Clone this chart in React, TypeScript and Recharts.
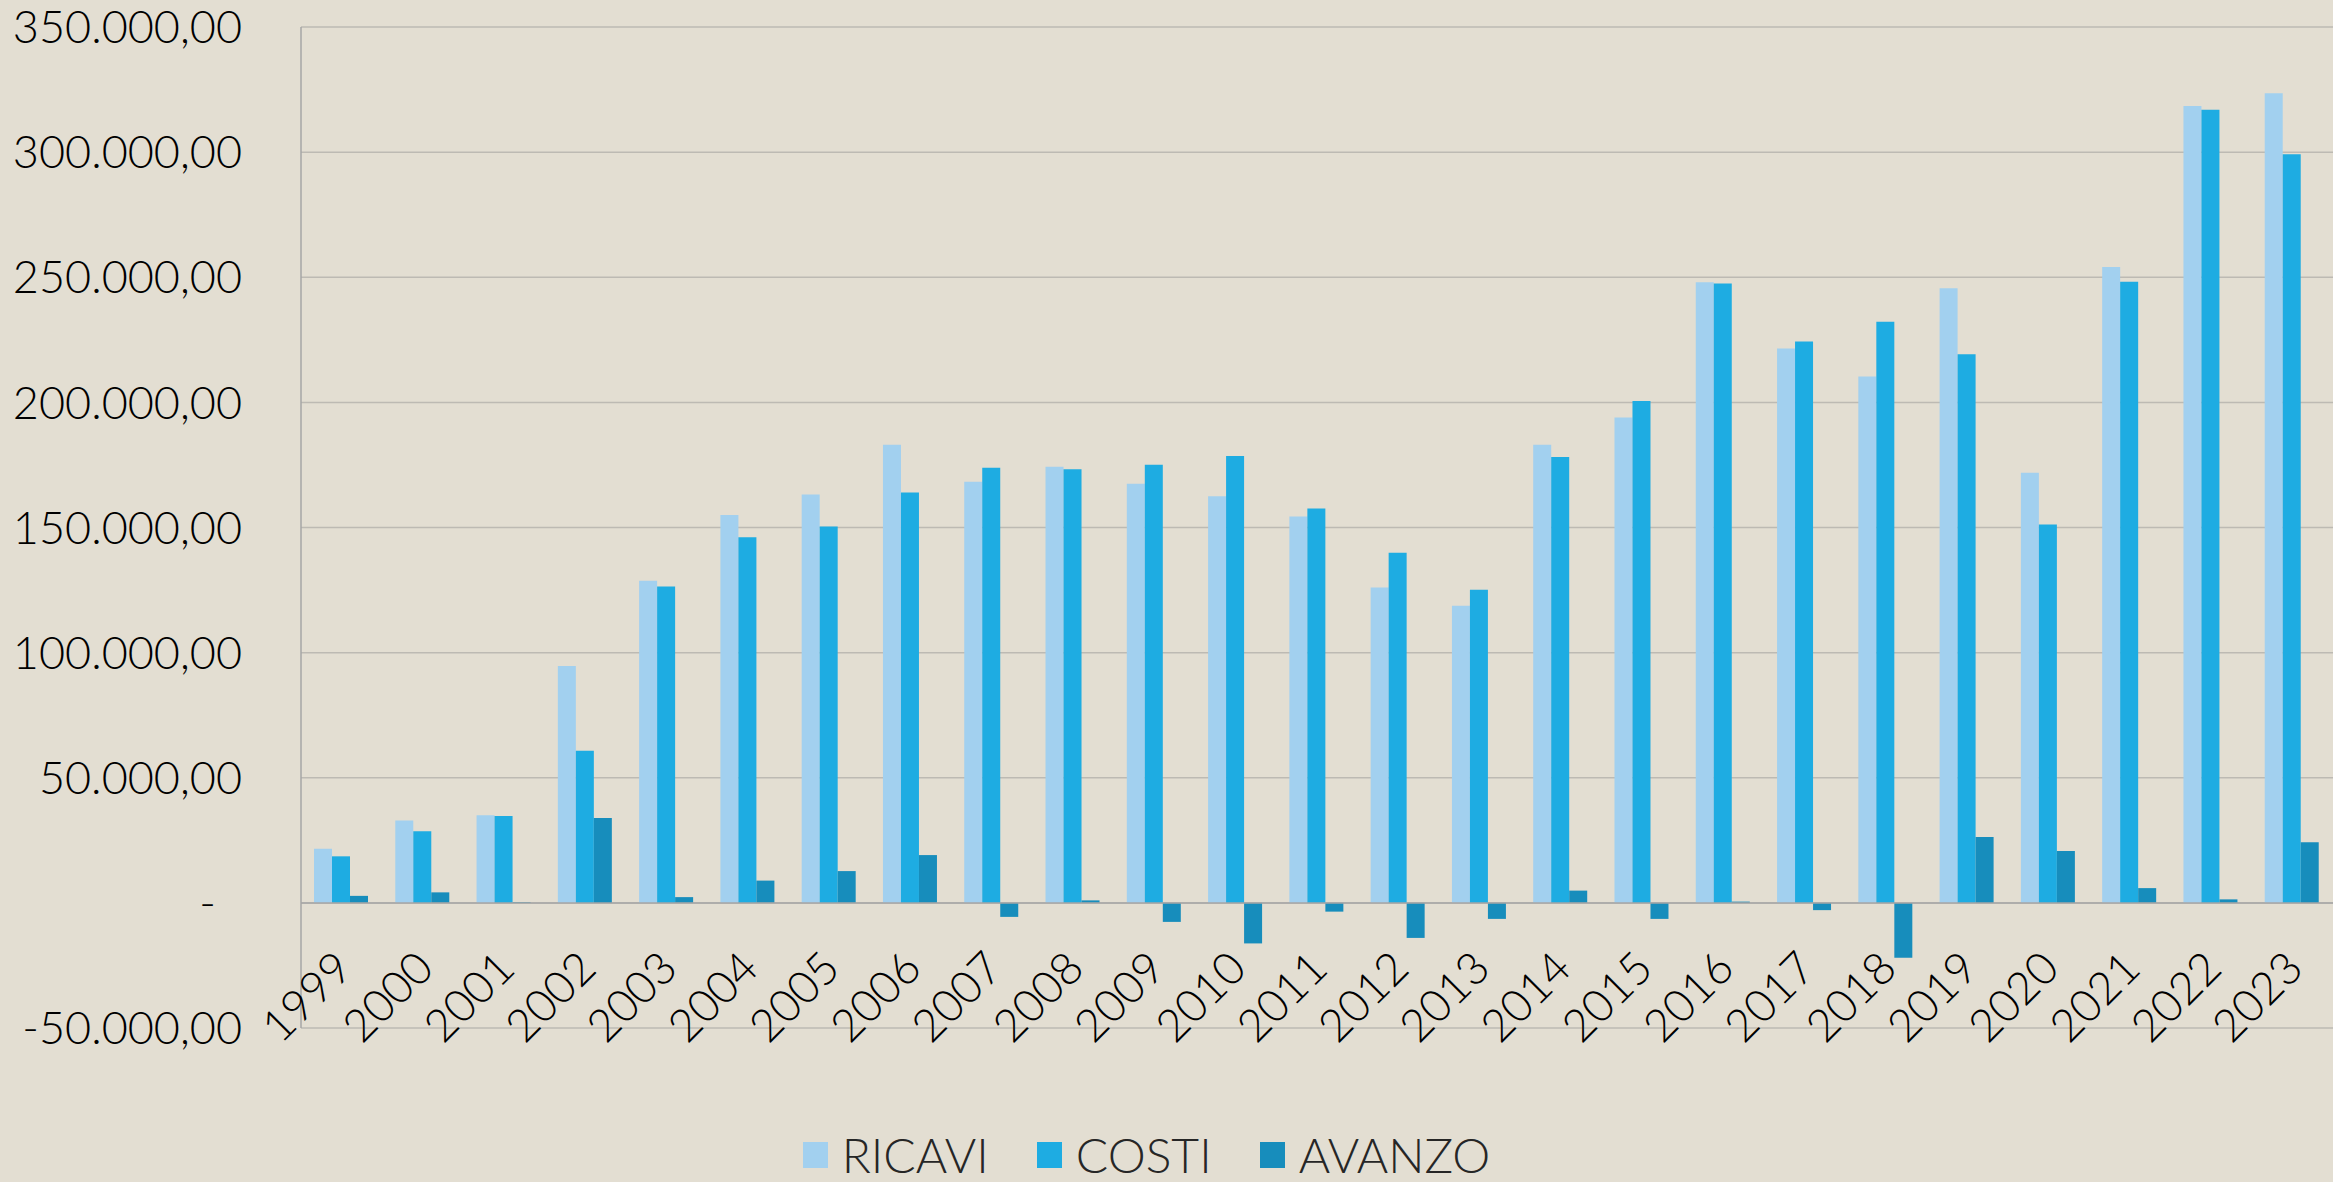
import { BarChart, Bar, XAxis, YAxis, CartesianGrid, Legend, ReferenceLine } from 'recharts';

// dati (valori in euro)
const anni = ['1999', '2000', '2001', '2002', '2003', '2004', '2005', '2006', '2007', '2008', '2009', '2010', '2011',
  '2012', '2013', '2014', '2015', '2016', '2017', '2018', '2019', '2020', '2021', '2022', '2023'];

const ricavi = [21600, 32900, 35000, 94700, 128700, 155000, 163200, 183100, 168300, 174300, 167500, 162500, 154400,
  126000, 118700, 183100, 194000, 248000, 221500, 210300, 245600, 171900, 254100, 318400, 323500];

const costi = [18600, 28600, 34700, 60800, 126400, 146100, 150400, 164000, 173900, 173300, 175100, 178600, 157600,
  139900, 125100, 178200, 200500, 247500, 224300, 232200, 219200, 151200, 248200, 316900, 299200];

const avanzo = [2800, 4200, 300, 33900, 2300, 8900, 12700, 19100, -5600, 1000, -7600, -16200, -3500,
  -14000, -6400, 4900, -6400, 500, -2900, -21900, 26300, 20700, 5900, 1400, 24200];

const yTicks = [-50000, 0, 50000, 100000, 150000, 200000, 250000, 300000, 350000];

const serie = [
  { key: 'RICAVI', color: '#a2d0ef' },
  { key: 'COSTI', color: '#1eace2' },
  { key: 'AVANZO', color: '#178dbc' },
];

const data = anni.map((anno, i) => ({
  anno,
  RICAVI: ricavi[i],
  COSTI: costi[i],
  AVANZO: avanzo[i],
}));

const W = 2333;
const H = 1182;
const margin = { top: 27, right: 0, bottom: 153, left: 0 };
const xAxisH = 1;
const plotH = H - margin.top - margin.bottom - xAxisH;
// posizione della linea dello zero (le etichette degli anni stanno sotto di essa)
const zeroY = margin.top + (plotH * yTicks[yTicks.length - 1]) / (yTicks[yTicks.length - 1] - yTicks[0]);

const FONT = "'Century Gothic', 'URW Gothic', Lato, sans-serif";

const formatIt = (v: number) => {
  if (v === 0) return '-';
  const s = Math.abs(v).toFixed(0).replace(/\B(?=(\d{3})+(?!\d))/g, '.');
  return (v < 0 ? '-' : '') + s + ',00';
};

const ValueTick = (props: any) => {
  const { x, y, payload } = props;
  const v = payload.value;
  return (
    <text x={x} y={y} dx={v === 0 ? -26 : 0} dy="0.36em" textAnchor="end" fill="#000" fontSize={45} fontWeight={300} fontFamily={FONT}>
      {formatIt(v)}
    </text>
  );
};

const YearTick = (props: any) => {
  const { x, payload } = props;
  const tx = x + 13;
  const ty = zeroY + 68;
  return (
    <text x={tx} y={ty} textAnchor="end" fill="#000" fontSize={45} fontWeight={300} fontFamily={FONT} transform={`rotate(-45, ${tx}, ${ty})`}>
      {payload.value}
    </text>
  );
};

const LegendaContent = () => (
  <div style={{ display: 'flex', justifyContent: 'center', alignItems: 'center', fontFamily: FONT }}>
    {serie.map((s, i) => (
      <div key={s.key} style={{ display: 'flex', alignItems: 'center', marginLeft: i === 0 ? 0 : 48 }}>
        <span style={{ display: 'inline-block', width: 25, height: 26, background: s.color, marginRight: 14 }} />
        <span style={{ fontSize: 48, fontWeight: 300, lineHeight: '48px', color: '#262626' }}>{s.key}</span>
      </div>
    ))}
  </div>
);

export default function App() {
  return (
    <div style={{ position: 'absolute', left: 0, top: 0, width: W, height: H, background: '#e3ded2', fontFamily: FONT }}>
      <BarChart width={W} height={H} data={data} margin={margin} barCategoryGap="16%" barGap={0}>
        <CartesianGrid vertical={false} stroke="#bdbab3" strokeWidth={1.5} />
        <XAxis dataKey="anno" height={xAxisH} axisLine={false} tickLine={false} tick={<YearTick />} interval={0} />
        <YAxis
          width={301}
          domain={[yTicks[0], yTicks[yTicks.length - 1]]}
          ticks={yTicks}
          interval={0}
          tickLine={false}
          tickSize={0}
          tickMargin={59}
          axisLine={{ stroke: '#a6a6a6', strokeWidth: 1.5 }}
          tick={<ValueTick />}
        />
        <ReferenceLine y={0} stroke="#a6a6a6" strokeWidth={1.5} />
        {serie.map((s) => (
          <Bar key={s.key} dataKey={s.key} fill={s.color} isAnimationActive={false} />
        ))}
        <Legend
          layout="horizontal"
          verticalAlign="middle"
          align="center"
          content={<LegendaContent />}
          wrapperStyle={{ top: 1131, left: 0, width: 2293 }}
        />
      </BarChart>
    </div>
  );
}
